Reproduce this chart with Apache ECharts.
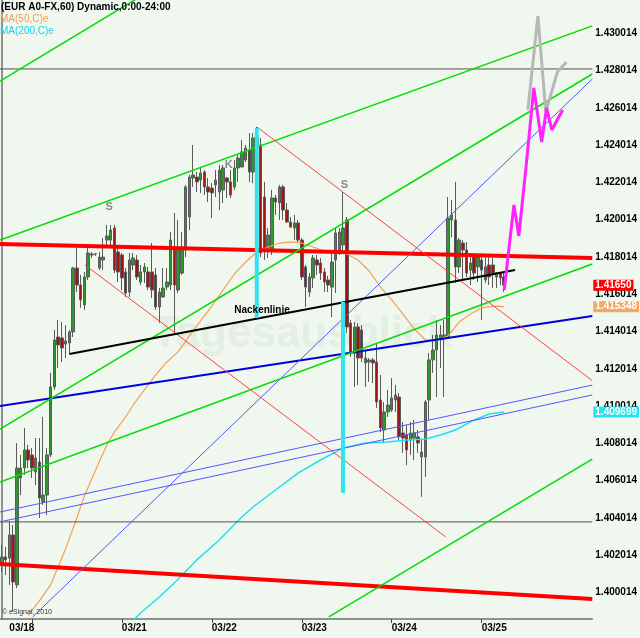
<!DOCTYPE html>
<html><head><meta charset="utf-8">
<script src="https://cdn.jsdelivr.net/npm/echarts@6/dist/echarts.min.js"></script>
<style>html,body{margin:0;padding:0;background:#eff7ef}#c{width:640px;height:638px}</style>
</head><body><div id="c"></div>
<script>
// ---------- data ----------
const barCount = 158; // hourly slots shown on the axis (data + empty future area)
const dayLabels = ['03/18','03/21','03/22','03/23','03/24','03/25'];
const dayLabelBars = [2,32,56,80,104,128];
const dayTickBars = [8,32,56,80,104,128];
const priceTicks = [1.400014,1.402014,1.404014,1.406014,1.408014,1.410014,1.412014,1.414014,
                    1.416014,1.418014,1.420014,1.422014,1.424014,1.426014,1.428014,1.430014];
const priceMin = 1.39859, priceMax = 1.43180;

// [open, close, low, high]
const candles = [
[1.40149,1.40192,1.40111,1.40256],[1.40192,1.40176,1.40095,1.40245],[1.40186,1.40310,1.40042,1.40380],[1.40310,1.40058,1.39897,1.40363],
[1.40042,1.40669,1.40025,1.40803],[1.40615,1.40669,1.40524,1.40739],[1.40669,1.40766,1.40632,1.40884],[1.40766,1.40712,1.40669,1.40793],
[1.40739,1.40669,1.40615,1.40776],[1.40648,1.40723,1.40578,1.40830],[1.40701,1.40508,1.40401,1.40830],[1.40487,1.40524,1.40471,1.40943],
[1.40524,1.40739,1.40417,1.40776],[1.40739,1.41104,1.40728,1.41179],[1.41104,1.41356,1.41088,1.41410],[1.41372,1.41329,1.41206,1.41463],
[1.41367,1.41313,1.41238,1.41453],[1.41334,1.41351,1.41259,1.41436],[1.41340,1.41399,1.41286,1.41410],[1.41399,1.41742,1.41372,1.41748],
[1.41742,1.41651,1.41613,1.41849],[1.41651,1.41571,1.41528,1.41705],[1.41544,1.41694,1.41517,1.41721],[1.41694,1.41823,1.41678,1.41849],
[1.41817,1.41812,1.41796,1.41828],[1.41817,1.41818,1.41807,1.41823],[1.41742,1.41801,1.41731,1.41828],[1.41785,1.41801,1.41731,1.41903],
[1.41892,1.41914,1.41849,1.41973],[1.41892,1.41946,1.41866,1.41973],[1.41957,1.41731,1.41715,1.41973],[1.41828,1.41721,1.41667,1.41866],
[1.41812,1.41689,1.41624,1.41823],[1.41721,1.41608,1.41587,1.41742],[1.41613,1.41785,1.41587,1.41823],[1.41758,1.41796,1.41731,1.41823],
[1.41785,1.41694,1.41678,1.41812],[1.41667,1.41721,1.41651,1.41758],[1.41721,1.41748,1.41662,1.41769],[1.41721,1.41640,1.41624,1.41748],
[1.41721,1.41624,1.41581,1.41876],[1.41705,1.41533,1.41517,1.41742],[1.41533,1.41613,1.41447,1.41635],[1.41587,1.41635,1.41581,1.41742],
[1.41640,1.41667,1.41624,1.41742],[1.41651,1.41892,1.41624,1.41935],[1.41849,1.41651,1.41393,1.42037],[1.41624,1.41839,1.41608,1.42000],
[1.41715,1.41855,1.41705,1.41935],[1.41839,1.42177,1.41801,1.42188],[1.42016,1.42230,1.41946,1.42241],[1.42225,1.42241,1.42177,1.42402],
[1.42230,1.42204,1.42150,1.42257],[1.42214,1.42252,1.42145,1.42284],[1.42257,1.42177,1.42134,1.42268],[1.42177,1.42150,1.42096,1.42225],
[1.42171,1.42145,1.42010,1.42198],[1.42188,1.42214,1.42123,1.42268],[1.42150,1.42268,1.42053,1.42295],[1.42161,1.42279,1.42091,1.42295],
[1.42225,1.42204,1.42118,1.42230],[1.42204,1.42134,1.42118,1.42268],[1.42177,1.42279,1.42161,1.42322],[1.42279,1.42332,1.42204,1.42348],
[1.42284,1.42365,1.42284,1.42429],[1.42322,1.42386,1.42311,1.42402],[1.42375,1.42257,1.42204,1.42466],[1.42257,1.42440,1.42198,1.42466],
[1.42440,1.42402,1.42375,1.42499],[1.42402,1.41823,1.41801,1.42440],[1.42123,1.41849,1.41785,1.42204],[1.41849,1.41919,1.41796,1.41957],
[1.41839,1.42118,1.41812,1.42161],[1.42118,1.42096,1.42027,1.42134],[1.42091,1.42177,1.42000,1.42188],[1.42177,1.42053,1.42000,1.42188],
[1.42053,1.41989,1.41984,1.42091],[1.41989,1.41962,1.41957,1.42016],[1.41957,1.41984,1.41892,1.42027],[1.41984,1.41892,1.41882,1.42000],
[1.41892,1.41694,1.41678,1.41903],[1.41748,1.41640,1.41533,1.41758],[1.41613,1.41694,1.41587,1.41715],[1.41689,1.41796,1.41635,1.41812],
[1.41785,1.41758,1.41705,1.41812],[1.41769,1.41715,1.41678,1.41796],[1.41721,1.41667,1.41613,1.41742],[1.41678,1.41651,1.41613,1.41699],
[1.41640,1.41774,1.41479,1.41823],[1.41785,1.41930,1.41608,1.41957],[1.41839,1.41935,1.41812,1.41957],[1.41866,1.41957,1.41839,1.42150],
[1.42000,1.41426,1.41393,1.42016],[1.41447,1.41286,1.41265,1.41463],[1.41286,1.41426,1.41104,1.41453],[1.41426,1.41259,1.41115,1.41447],
[1.41410,1.41259,1.41238,1.41436],[1.41233,1.41259,1.41104,1.41302],[1.41238,1.41249,1.41131,1.41259],[1.41249,1.41233,1.41125,1.41259],
[1.41238,1.41023,1.40991,1.41340],[1.41034,1.40884,1.40862,1.41168],[1.40873,1.40970,1.40803,1.41023],[1.40970,1.41007,1.40943,1.41088],
[1.40980,1.41045,1.40970,1.41152],[1.41034,1.41061,1.40970,1.41115],[1.41050,1.40836,1.40819,1.41072],[1.40857,1.40830,1.40750,1.40916],
[1.40846,1.40766,1.40685,1.40900],[1.40819,1.40857,1.40739,1.40916],[1.40830,1.40857,1.40712,1.40927],[1.40836,1.40803,1.40750,1.40873],
[1.40728,1.40755,1.40514,1.40819],[1.40728,1.41023,1.40621,1.41034],[1.41034,1.41249,1.40927,1.41286],[1.41249,1.41302,1.41179,1.41383],
[1.41302,1.41383,1.41050,1.41463],[1.41356,1.41383,1.41206,1.41436],[1.41367,1.41383,1.41050,1.41463],[1.41372,1.42010,1.41367,1.42123],
[1.42000,1.42027,1.41908,1.42107],[1.42000,1.41748,1.41662,1.42204],[1.41748,1.41892,1.41715,1.41903],[1.41876,1.41839,1.41678,1.41892],
[1.41839,1.41715,1.41694,1.41882],[1.41731,1.41769,1.41651,1.41801],[1.41801,1.41715,1.41678,1.41812],[1.41748,1.41801,1.41667,1.41812],
[1.41785,1.41731,1.41463,1.41812],[1.41678,1.41748,1.41662,1.41812],[1.41758,1.41694,1.41651,1.41812],[1.41758,1.41715,1.41635,1.41796],
[1.41694,1.41715,1.41635,1.41721],[1.41715,1.41689,1.41651,1.41721],[1.41694,1.41650,1.41613,1.41715]
];

// moving averages: [bar index, value]
const ma50 = [[7,1.39880],[10,1.39956],[13,1.40042],[15,1.40138],[17,1.40235],[20,1.40401],[22,1.40519],[25,1.40659],
  [28,1.40793],[30,1.40862],[33,1.40943],[35,1.41007],[38,1.41088],[41,1.41168],[44,1.41238],[47,1.41292],[50,1.41377],
  [53,1.41458],[56,1.41538],[59,1.41624],[62,1.41710],[65,1.41774],[68,1.41828],[71,1.41855],[74,1.41876],[77,1.41882],
  [80,1.41876],[83,1.41855],[86,1.41833],[89,1.41828],[92,1.41817],[95,1.41785],[98,1.41726],[101,1.41640],[104,1.41571],
  [107,1.41495],[110,1.41415],[113,1.41356],[116,1.41356],[119,1.41377],[122,1.41453],[125,1.41495],[128,1.41528],
  [131,1.41538],[134,1.415348]];
const ma200 = [[33,1.39811],[37,1.39891],[42,1.39977],[46,1.40052],[52,1.40176],[58,1.40283],[64,1.40406],[67,1.40460],
  [73,1.40551],[79,1.40642],[85,1.40712],[91,1.40776],[97,1.40803],[103,1.40809],[108,1.40819],[113,1.40825],[117,1.40846],
  [121,1.40873],[126,1.40927],[130,1.40959],[134,1.409699]];

// last-value tags on the price axis: [value, text]
const lastValueTags = [[1.41650,'1.41650'],[1.415348,'1.415348'],[1.409699,'1.409699']];

// drawn trend lines: [[bar index, price], [bar index, price]]
const levelTop = [[-0.5,1.42810],[157.5,1.42810]];
const levelBottom = [[-0.5,1.40380],[157.5,1.40380]];
const redResistance = [[-0.5,1.41871],[157.5,1.41796]];
const redSupport = [[-0.5,1.40154],[157.5,1.39966]];
const neckline = [[18.0,1.41281],[136.9,1.41731]];
const blueTrend = [[-0.5,1.41002],[157.5,1.41485]];
const thinBlueUpper = [[-0.5,1.40433],[157.5,1.41114]];
const thinBlueLower = [[-0.5,1.40380],[157.5,1.41061]];
const steepBlue = [[8.2,1.39870],[157.5,1.42756]];
const greenA = [[-0.5,1.42745],[39.1,1.43225]];
const greenB = [[-0.5,1.41892],[157.5,1.43041]];
const greenC = [[-0.5,1.40878],[157.5,1.42783]];
const greenD = [[-0.5,1.40594],[157.5,1.41764]];
const greenE = [[87.2,1.39870],[157.5,1.40717]];
const redThinK = [[68,1.42499],[157.5,1.41138]];
const redThinLow = [[22.2,1.41758],[118.4,1.40299]];
const cyanMark1 = [[68,1.42493],[68,1.41474]];
const cyanMark2 = [[91,1.41560],[91,1.40535]];
const forecastMagenta = [[134.0,1.41624],[136.6,1.42080],[137.9,1.41914],[139.8,1.42279],[141.9,1.42708],
  [144.0,1.42418],[145.3,1.42601],[146.7,1.42483],[149.6,1.42590]];
const forecastGray = [[140.3,1.42590],[143.0,1.43094],[145.1,1.42579],[148.2,1.42794],[150.6,1.42847]];

const patternLabels = [[28.6,1.42069,'S'],[60.5,1.42295,'K'],[91.4,1.42188,'S']];
const necklineLabel = [[69.4,1.41517,'Nackenlinie']];

// ---------- chart ----------
const categories = Array.from({length: barCount}, (_, i) => String(i));
const FONT = '"Liberation Sans", Arial, sans-serif';
const tagColors = ['#ff0000','#f4a860','#22e4f0'];

function seg(data, color, width, z) {
  return {type:'line', xAxisIndex:1, yAxisIndex:0, data, symbol:'none', silent:true, clip:true,
    lineStyle:{color, width}, z: z || 3, animation:false};
}

const chart = echarts.init(document.getElementById('c'), null, {renderer:'canvas'});
chart.setOption({
  backgroundColor:'#eff7ef',
  animation:false,
  grid:{left:0, right:42, top:0, bottom:19, containLabel:false},
  xAxis:[{
    type:'category', data:categories, boundaryGap:true, position:'bottom',
    axisLine:{show:true, lineStyle:{color:'#707070', width:1.5}},
    axisTick:{show:true, alignWithLabel:true, length:4, interval:(i)=>dayTickBars.includes(i), lineStyle:{color:'#444'}},
    axisLabel:{show:true, interval:(i)=>dayLabelBars.includes(i),
      formatter:(v,i)=>{const k=dayLabelBars.indexOf(i); return k>=0?dayLabels[k]:'';},
      align:'left', margin:4, fontSize:10, fontWeight:'bold', color:'#000', fontFamily:FONT},
    splitLine:{show:false}
  },{
    type:'value', min:-0.5, max:barCount-0.5, show:false
  }],
  yAxis:{
    type:'value', position:'right', min:priceMin, max:priceMax, scale:true,
    axisLine:{show:true, lineStyle:{color:'#707070', width:1.5}},
    axisTick:{show:false},
    splitLine:{show:false},
    axisLabel:{customValues:priceTicks, formatter:(v)=>v.toFixed(6), margin:3,
      fontSize:10, fontWeight:'bold', color:'#000', fontFamily:FONT}
  },
  graphic:[
    {type:'text', left:1, top:2, z:20, style:{text:'(EUR A0-FX,60) Dynamic,0:00-24:00', font:'bold 10px '+FONT, fill:'#000'}},
    {type:'text', left:0, top:14, z:20, style:{text:'MA(50,C)e', font:'10px '+FONT, fill:'#f0a050'}},
    {type:'text', left:0, top:26, z:20, style:{text:'MA(200,C)e', font:'10px '+FONT, fill:'#10d8e8'}},
    {type:'text', left:2, top:609, z:20, style:{text:'© eSignal, 2010', font:'7px '+FONT, fill:'#333'}},
    {type:'text', left:152, top:313, z:0, style:{text:'Tagesausblick', font:'bold 44px '+FONT, fill:'rgba(190,215,190,0.25)'}}
  ],
  series:[
    {type:'candlestick', xAxisIndex:0, yAxisIndex:0, data:candles, barWidth:3, z:2,
     itemStyle:{color:'#2a9a2a', color0:'#a01414', borderColor:'#5a5a5a', borderColor0:'#5a5a5a', borderWidth:1}},
    {type:'line', xAxisIndex:1, data:ma200, symbol:'none', silent:true, lineStyle:{color:'#20e0f0', width:1.5}, z:3},
    {type:'line', xAxisIndex:1, data:ma50, symbol:'none', silent:true, lineStyle:{color:'#f5a050', width:1.2}, z:3},
    seg(levelTop,'#505050',1),
    seg(levelBottom,'#505050',1),
    seg(redResistance,'#ff0000',4),
    seg(redSupport,'#ff0000',4),
    seg(blueTrend,'#0000dd',2),
    seg(thinBlueUpper,'#5555ff',1),
    seg(thinBlueLower,'#5555ff',1),
    seg(steepBlue,'#5555ff',1),
    seg(greenA,'#00dd00',1.5),
    seg(greenB,'#00dd00',1.5),
    seg(greenC,'#00dd00',1.5),
    seg(greenD,'#00dd00',1.5),
    seg(greenE,'#00dd00',1.5),
    seg(redThinK,'#ff4040',1),
    seg(redThinLow,'#ff4040',1),
    seg(neckline,'#000000',2),
    seg(cyanMark1,'#33e4ee',4,4),
    seg(cyanMark2,'#33e4ee',4,4),
    seg(forecastGray,'#b8b8b8',3,4),
    seg(forecastMagenta,'#ff22ff',3,4),
    {type:'scatter', xAxisIndex:1, data:patternLabels, symbolSize:0, silent:true, z:5, itemStyle:{opacity:1},
     label:{show:true, position:'inside', formatter:(p)=>p.value[2], color:'#8a8a8a', fontWeight:'bold', fontSize:11, fontFamily:FONT}},
    {type:'scatter', xAxisIndex:1, data:necklineLabel, symbolSize:0, silent:true, z:5, itemStyle:{opacity:1},
     label:{show:true, position:'inside', formatter:(p)=>p.value[2], color:'#000', fontWeight:'bold', fontSize:10, fontFamily:FONT}},
    {type:'scatter', xAxisIndex:1, symbolSize:0, silent:true, z:10, clip:false, itemStyle:{opacity:1},
     data: lastValueTags.map((t,k)=>({value:[barCount-0.5, t[0]],
       label:{show:true, position:'right', distance:1, formatter:t[1], backgroundColor:tagColors[k],
         color:'#fff', fontWeight:'bold', fontSize:10, fontFamily:FONT, padding:[1,2,0,2], lineHeight:10}}))}
  ]
});
</script></body></html>
